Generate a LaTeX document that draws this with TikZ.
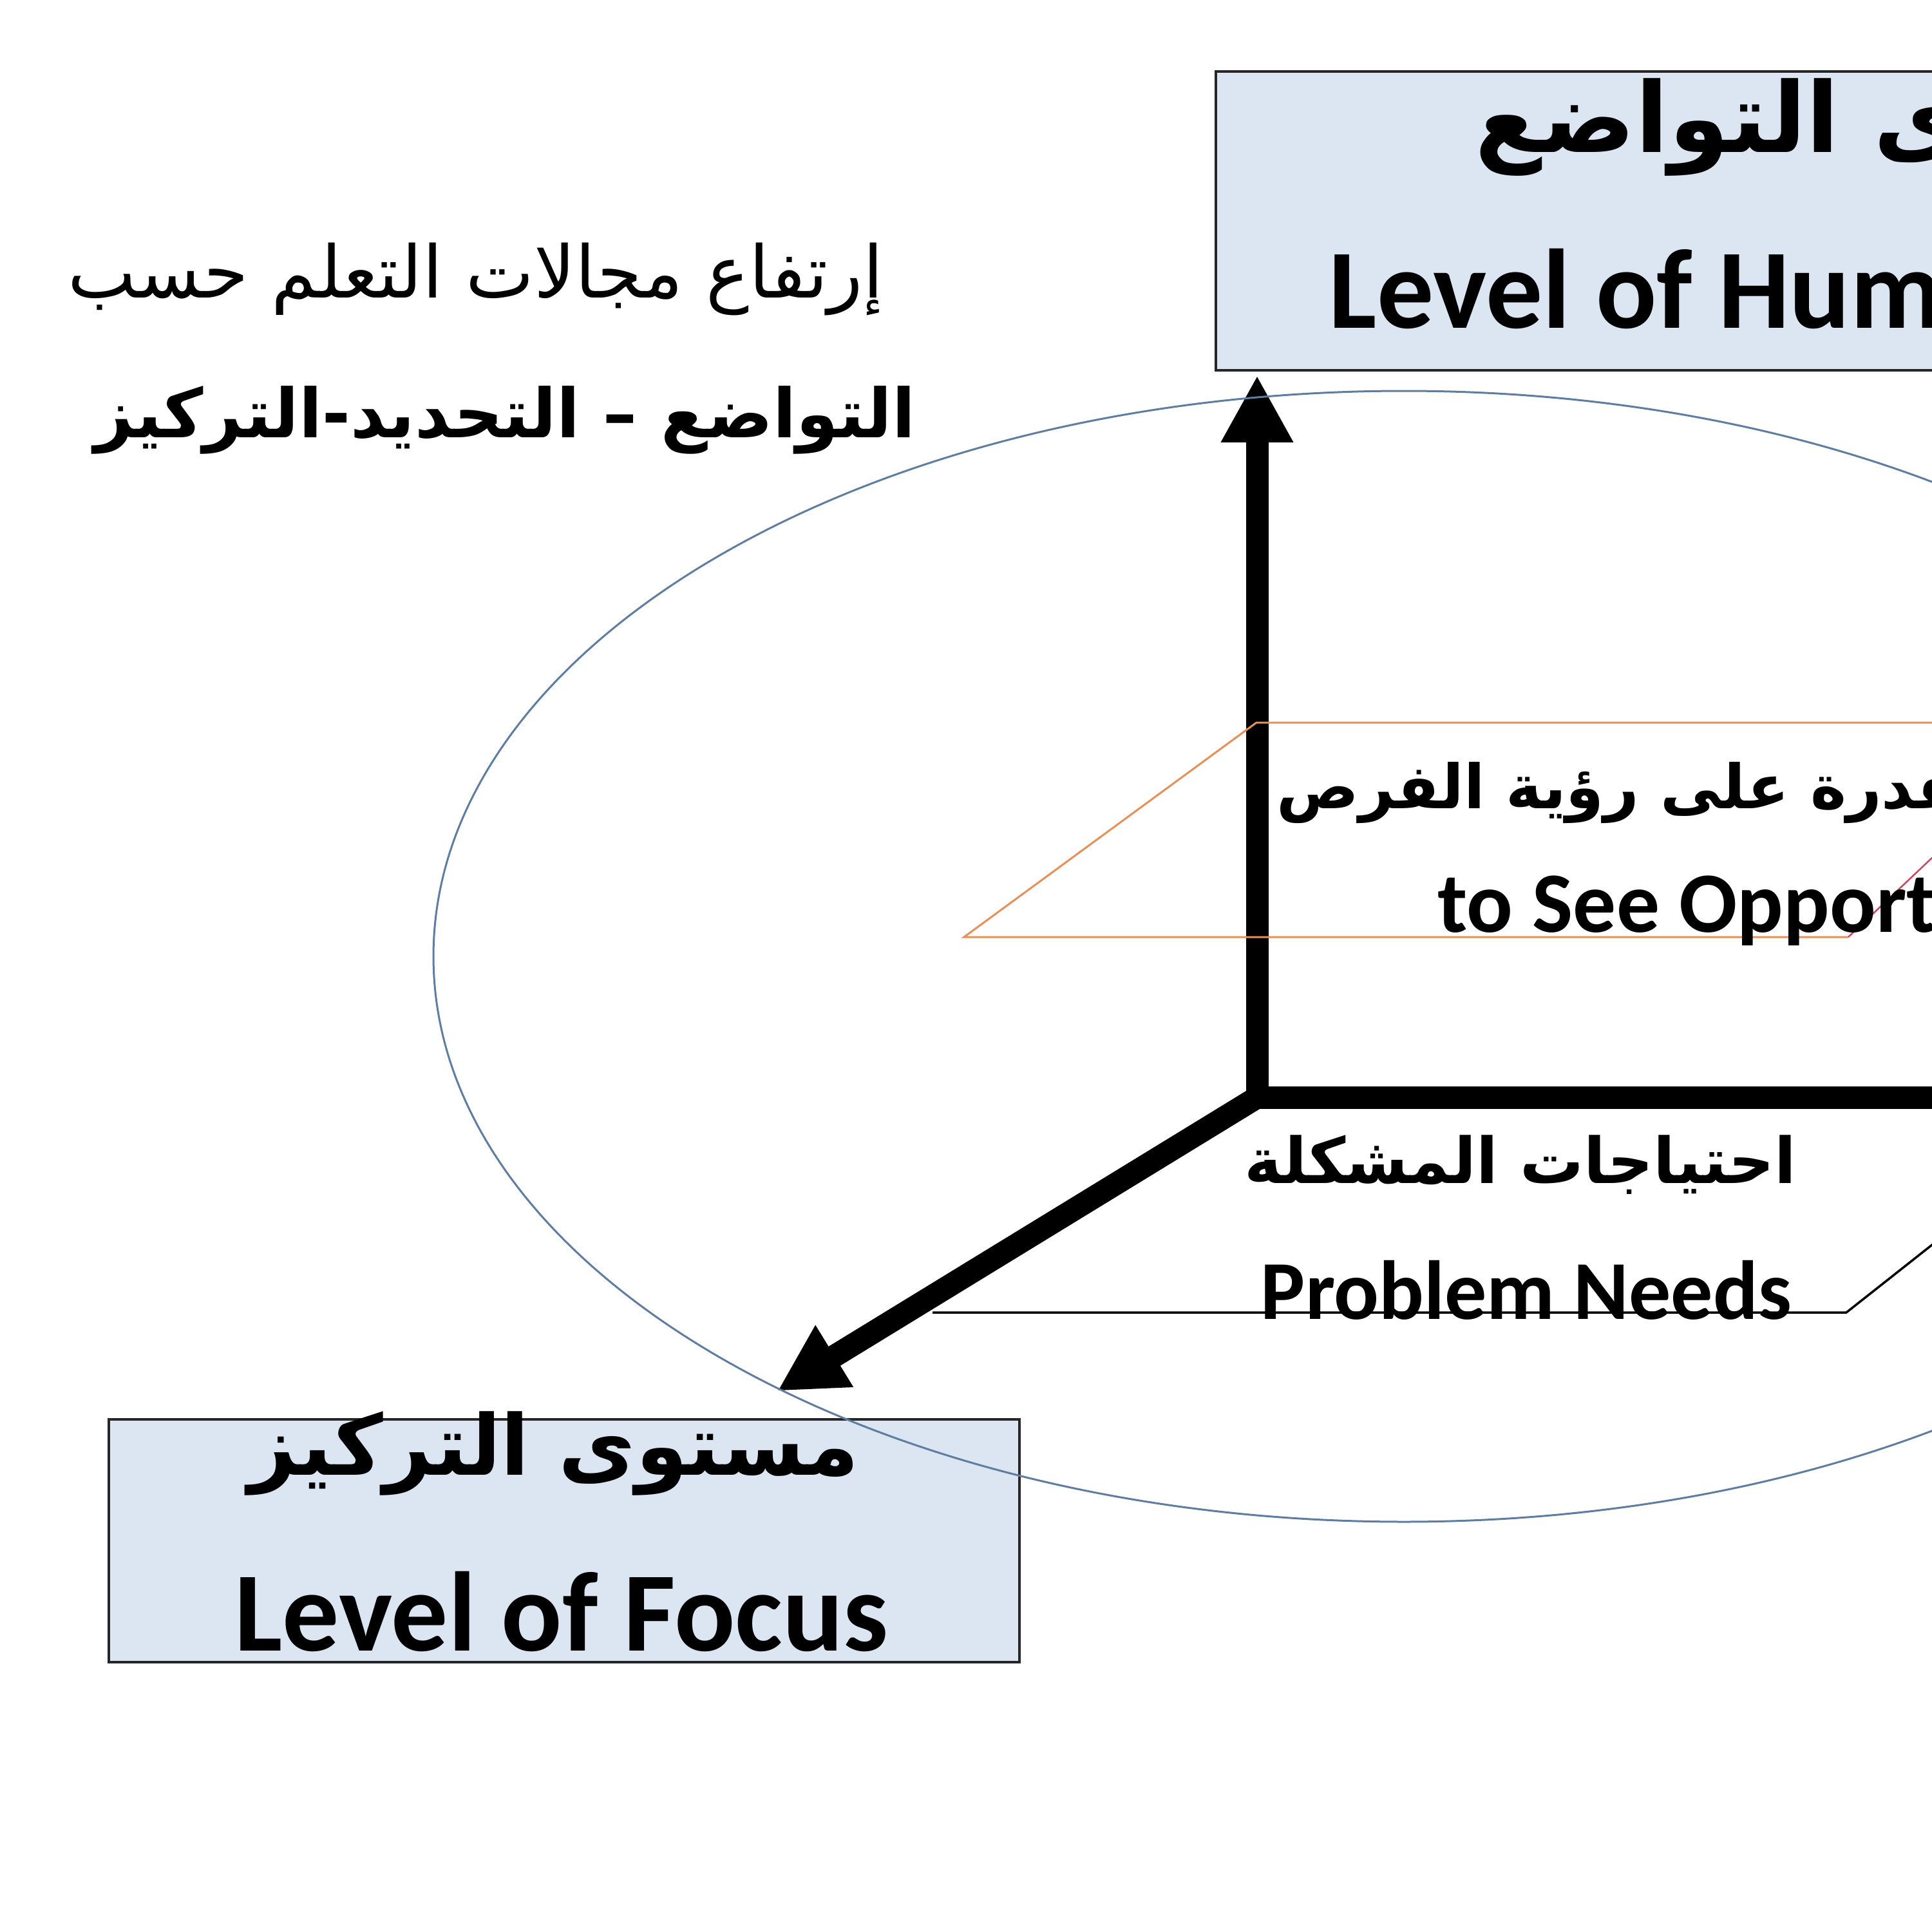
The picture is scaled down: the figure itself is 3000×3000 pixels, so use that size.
\documentclass[tikz,border=0pt]{standalone}
\usepackage{fontspec}
\setmainfont{Carlito}
\newfontfamily\arabicfont[Script=Arabic]{DejaVu Sans}
\TeXXeTstate=1
\usetikzlibrary{arrows.meta}

\definecolor{boxfill}{RGB}{220,230,242}
\definecolor{ringline}{RGB}{95,125,160}
\definecolor{planeline}{RGB}{230,145,90}
\definecolor{edgered}{RGB}{205,70,95}

\begin{document}
\begin{tikzpicture}[x=0.1mm,y=-0.1mm,
  axis/.style={line width=3.5mm,line cap=rect,
    -{Triangle[length=10.4mm,width=10.5mm]}},
  levelbox/.style={draw=black!85,line width=0.4mm,fill=boxfill,
    inner sep=0pt},
  entext/.style={inner sep=0pt,anchor=base,
    font=\bfseries\fontsize{#1}{#1}\selectfont},
  artext/.style={inner sep=0pt,anchor=base,
    font=\arabicfont\bfseries\fontsize{#1}{#1}\selectfont}]

\useasboundingbox (0,0) rectangle (3000,3000);
\clip (0,0) rectangle (3000,3000);

% Boites des niveaux
\node[levelbox,minimum width=155mm,minimum height=46.4mm]
(humbox) at (2663,343) {};

\node[levelbox,minimum width=141.4mm,minimum height=37.7mm]
(focusbox) at (876,2392) {};

% Plan des besoins
\draw[line width=0.35mm]
(1448,2038)
--
(2867,2038)
--
(3290,1704);

% Axes
\coordinate (origin) at (1952,1704);
\coordinate (humtip) at (1952,583);
\coordinate (needtip) at (3400,1704);
\coordinate (focustip) at (1207,2160);

\draw[axis] (origin) -- (humtip);
\draw[axis] (origin) -- (needtip);
\draw[axis] (origin) -- (focustip);

% Plan des opportunites
\draw[planeline,line width=0.3mm]
(2870,1455)
--
(1497,1455)
--
(1951,1122)
--
(3300,1122);

\draw[edgered,line width=0.25mm]
(2870,1455)
--
(3222,1122);

% Ellipse
\draw[ringline,line width=0.3mm]
(2180,1485) ellipse [x radius=150.7mm,y radius=87.8mm];

% Textes
\node[artext=32pt,anchor=base east] (titleA) at (1372,463)
{\arabicfont\mdseries\beginR إرتفاع مجالات التعلم حسب\endR};
\node[artext=30pt,anchor=base east] (titleB) at (1422,680)
{\beginR التواضع – التحديد-التركيز\endR};

\node[artext=43pt,anchor=base west] (humAr) at (2290,237)
{\beginR مستوى التواضع\endR};
\node[entext=50pt,anchor=base west] (humEn) at (2063,510)
{Level of Humility};

\node[artext=27pt,anchor=base west] (oppAr) at (1982,1255)
{\beginR القدرة على رؤية الفرص\endR};
\node[entext=38pt,anchor=base west] (oppEn) at (2232,1447)
{to See Opportunities};

\node[artext=28pt] (needAr) at (2361,1837)
{\beginR احتياجات المشكلة\endR};
\node[entext=37pt] (needEn) at (2370,2048)
{Problem Needs};

\node[artext=37pt] (focusAr) at (860,2290)
{\beginR مستوى التركيز\endR};
\node[entext=50pt] (focusEn) at (872,2563)
{Level of Focus};

\end{tikzpicture}
\end{document}
